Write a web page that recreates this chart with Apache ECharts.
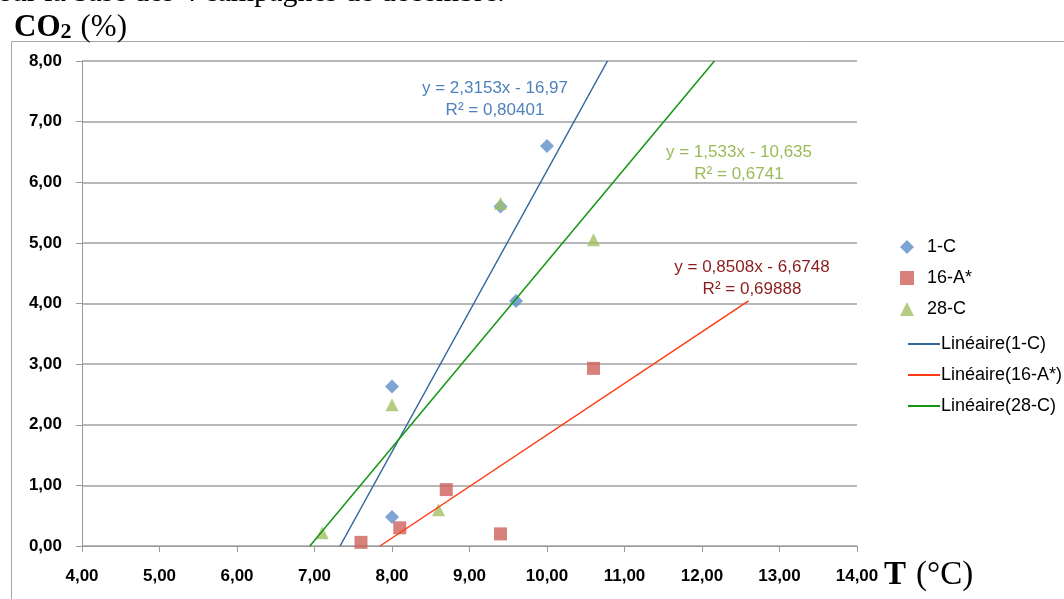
<!DOCTYPE html>
<html>
<head>
<meta charset="utf-8">
<script src="https://cdn.jsdelivr.net/npm/echarts@6/dist/echarts.min.js"></script>
<style>
  html, body { margin: 0; padding: 0; background: #fff; }
  #main { width: 1064px; height: 599px; }
</style>
</head>
<body>
<div id="main"></div>
<script>
  // points relevés : [T (°C), CO2 (%)]
  let points1C = [[8.0, 2.63], [8.0, 0.48], [9.4, 5.6], [9.6, 4.04], [10.0, 6.6]]
  let points16A = [[7.6, 0.06], [8.1, 0.3], [8.7, 0.93], [9.4, 0.2], [10.6, 2.93]]
  let points28C = [[7.1, 0.22], [8.0, 2.33], [8.6, 0.6], [9.4, 5.65], [10.6, 5.05]]

  // extrémités des courbes de tendance
  let trend1C = [[7.33, 0], [10.78, 8.0]]
  let trend16A = [[7.845, 0], [12.6, 4.045]]
  let trend28C = [[6.94, 0], [12.16, 8.0]]

  let equations = [
    'y = 2,3153x - 16,97\nR² = 0,80401',
    'y = 1,533x - 10,635\nR² = 0,6741',
    'y = 0,8508x - 6,6748\nR² = 0,69888'
  ]

  let colors = ['#5b8fc9', '#cd605b', '#a2c064']
  let lineColors = ['#336699', '#ff3b14', '#149614']
  let sans = 'Liberation Sans, Arial, sans-serif'
  let serif = 'Liberation Serif, DejaVu Serif, serif'

  function fmt (v) {
    return v.toFixed(2).replace('.', ',')
  }

  let chart = echarts.init(document.getElementById('main'))
  chart.setOption({
    animation: false,
    grid: { left: 82, right: 207, top: 61, bottom: 53 },
    legend: [
      {
        orient: 'vertical',
        left: 895,
        top: 233,
        itemWidth: 14,
        itemHeight: 14,
        itemGap: 13,
        textStyle: { fontFamily: sans, fontSize: 18, color: '#000', padding: [0, 0, 0, 8] },
        data: ['1-C', '16-A*', '28-C']
      },
      {
        orient: 'vertical',
        left: 903,
        top: 330,
        icon: 'rect',
        itemWidth: 32,
        itemHeight: 2,
        itemGap: 13,
        textStyle: { fontFamily: sans, fontSize: 18, color: '#000', padding: [0, 0, 0, -4] },
        data: ['Linéaire(1-C)', 'Linéaire(16-A*)', 'Linéaire(28-C)']
      }
    ],
    xAxis: {
      type: 'value',
      min: 4,
      max: 14,
      interval: 1,
      axisLine: { lineStyle: { color: '#9a9a9a', width: 1 } },
      axisTick: { show: true, length: 6, lineStyle: { color: '#9a9a9a' } },
      axisLabel: {
        margin: 22,
        fontFamily: sans,
        fontSize: 17,
        fontWeight: 'bold',
        color: '#000',
        formatter: fmt
      },
      splitLine: { show: false }
    },
    yAxis: {
      type: 'value',
      min: 0,
      max: 8,
      interval: 1,
      axisLine: { show: true, lineStyle: { color: '#9a9a9a', width: 1 } },
      axisTick: { show: true, length: 6, lineStyle: { color: '#9a9a9a' } },
      axisLabel: {
        margin: 20,
        fontFamily: sans,
        fontSize: 17,
        fontWeight: 'bold',
        color: '#000',
        formatter: fmt
      },
      splitLine: { show: true, lineStyle: { color: '#a0a0a0', width: 1.5 } }
    },
    graphic: [
      {
        type: 'rect',
        shape: { x: 11.5, y: 41.5, width: 1070, height: 600 },
        style: { fill: 'none', stroke: '#a6a6a6', lineWidth: 1 },
        z: -10
      },
      {
        type: 'text',
        left: 0,
        top: -22,
        style: { text: 'sur la base des 4 campagnes de décembre.', font: '30px ' + serif, fill: '#000' }
      },
      {
        type: 'text',
        left: 14,
        top: 12,
        style: {
          text: '{b|CO}{s|2}{n|(%)}',
          rich: {
            b: { fontFamily: serif, fontSize: 31, fontWeight: 'bold', fill: '#000', verticalAlign: 'bottom', lineHeight: 34 },
            s: { fontFamily: serif, fontSize: 22, fontWeight: 'bold', fill: '#000', verticalAlign: 'bottom', lineHeight: 30 },
            n: { fontFamily: serif, fontSize: 31, fill: '#000', verticalAlign: 'bottom', lineHeight: 34, padding: [0, 0, 0, 9] }
          }
        }
      },
      {
        type: 'text',
        left: 884,
        top: 559,
        style: {
          text: '{b|T}{n|(°C)}',
          rich: {
            b: { fontFamily: serif, fontSize: 33, fontWeight: 'bold', fill: '#000' },
            n: { fontFamily: serif, fontSize: 33, fill: '#000', padding: [0, 0, 0, 10] }
          }
        }
      },
      {
        type: 'text',
        x: 495,
        y: 77,
        style: { text: equations[0], font: '17px ' + sans, fill: '#4f81bd', align: 'center', lineHeight: 22 }
      },
      {
        type: 'text',
        x: 739,
        y: 141,
        style: { text: equations[1], font: '17px ' + sans, fill: '#9bbb59', align: 'center', lineHeight: 22 }
      },
      {
        type: 'text',
        x: 752,
        y: 256,
        style: { text: equations[2], font: '17px ' + sans, fill: '#8c1c1c', align: 'center', lineHeight: 22 }
      }
    ],
    series: [
      {
        name: '1-C',
        type: 'scatter',
        symbol: 'diamond',
        symbolSize: 14,
        itemStyle: { color: colors[0] },
        data: points1C
      },
      {
        name: '16-A*',
        type: 'scatter',
        symbol: 'rect',
        symbolSize: 13,
        itemStyle: { color: colors[1] },
        data: points16A
      },
      {
        name: '28-C',
        type: 'scatter',
        symbol: 'triangle',
        symbolSize: 13,
        itemStyle: { color: colors[2] },
        data: points28C
      },
      {
        name: 'Linéaire(1-C)',
        type: 'line',
        symbol: 'none',
        lineStyle: { color: lineColors[0], width: 1.5 },
        itemStyle: { color: lineColors[0] },
        data: trend1C
      },
      {
        name: 'Linéaire(16-A*)',
        type: 'line',
        symbol: 'none',
        lineStyle: { color: lineColors[1], width: 1.5 },
        itemStyle: { color: lineColors[1] },
        data: trend16A
      },
      {
        name: 'Linéaire(28-C)',
        type: 'line',
        symbol: 'none',
        lineStyle: { color: lineColors[2], width: 1.5 },
        itemStyle: { color: lineColors[2] },
        data: trend28C
      }
    ]
  })
</script>
</body>
</html>
